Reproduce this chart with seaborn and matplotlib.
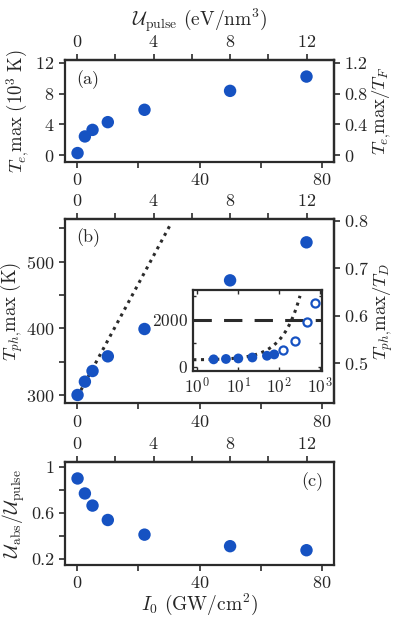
import matplotlib.pyplot as plt
import seaborn as sns
import numpy as np
import pandas as pd

# laser intensity I0 (GW/cm^2) of the runs
I0 = [0.1, 2.5, 5, 10, 22, 50, 75]
Te_max = [0.3, 2.45, 3.3, 4.3, 5.9, 8.35, 10.2]        # 10^3 K
Tph_max = [300, 320, 336, 358, 399, 472, 529]           # K
U_ratio = [0.90, 0.77, 0.665, 0.54, 0.413, 0.313, 0.278]

# inset: higher intensities (open symbols)
I0_high = [120, 240, 480, 750]
Tph_high = [700, 1090, 1900, 2700]
T_melt = 1990

# dotted linear trend (endpoints)
fit_I0 = [0, 30.4]
fit_T = [297, 555]

U_per_I0 = 0.16  # eV/nm^3 per GW/cm^2
blue = "#1652c2"
dark = "#2b2b2b"

sns.set_style("ticks")
plt.rcParams["font.family"] = "serif"
plt.rcParams["font.serif"] = ["cmr10", "DejaVu Serif"]
plt.rcParams["mathtext.fontset"] = "cm"
plt.rcParams["axes.formatter.use_mathtext"] = True
plt.rcParams["axes.edgecolor"] = dark
plt.rcParams["axes.linewidth"] = 1.6

df = pd.DataFrame({"I0": I0, "Te": Te_max, "Tph": Tph_max, "U": U_ratio})
fit = pd.DataFrame({"I0": fit_I0, "T": fit_T})

fig = plt.figure(figsize=(3.95, 6.17), dpi=100)
L, W = 0.1646, 0.681
axa = fig.add_axes([L, 0.7374, W, 0.1653])
axb = fig.add_axes([L, 0.3463, W, 0.2982])
axc = fig.add_axes([L, 0.0843, W, 0.1664])

fs_tick = 13
fs_lab = 13.5


def style(ax):
    ax.set_xlim(-4, 84)
    ax.set_xticks([0, 40, 80])
    ax.set_xticks([20, 60], minor=True)
    ax.tick_params(which="both", direction="out", length=4, width=1.2,
                   labelsize=fs_tick, color=dark)
    top = ax.secondary_xaxis("top", functions=(lambda x: x * U_per_I0,
                                               lambda u: u / U_per_I0))
    top.set_xticks([0, 4, 8, 12])
    top.set_xticks([2, 6, 10], minor=True)
    top.tick_params(which="both", direction="out", length=4, width=1.2,
                    labelsize=fs_tick, color=dark)
    for s in ax.spines.values():
        s.set_visible(True)
    return top


# (a)
sns.scatterplot(data=df, x="I0", y="Te", ax=axa, color=blue, s=80,
                edgecolor="none")
top_a = style(axa)
top_a.set_xlabel(r"$\mathcal{U}_{\rm pulse}$ (eV/nm$^3$)", fontsize=fs_lab + 0.5,
                 labelpad=6)
axa.set_ylim(-0.86, 12.34)
axa.set_yticks([0, 4, 8, 12])
axa.set_xlabel("")
axa.set_ylabel(r"$T_{e,}\!\mathrm{max}\ (10^3\ \mathrm{K})$", fontsize=fs_lab)
axa.yaxis.set_label_coords(-0.125, 0.5)
ra = axa.secondary_yaxis("right", functions=(lambda y: y / 10, lambda r: r * 10))
ra.set_yticks([0, 0.4, 0.8, 1.2])
ra.set_yticklabels(["0", "0.4", "0.8", "1.2"])
ra.tick_params(direction="out", length=4, width=1.2, labelsize=fs_tick, color=dark)
ra.set_ylabel(r"$T_{e,}\!\mathrm{max}/T_F$", fontsize=fs_lab, labelpad=2)
axa.text(0.04, 0.9, "(a)", transform=axa.transAxes, fontsize=fs_tick, va="top")

# (b)
sns.lineplot(data=fit, x="I0", y="T", ax=axb, color=dark, lw=2.2,
             linestyle=(0, (1, 1.5)))
sns.scatterplot(data=df, x="I0", y="Tph", ax=axb, color=blue, s=80,
                edgecolor="none", zorder=3)
style(axb)
axb.set_ylim(287.5, 563.5)
axb.set_yticks([300, 400, 500])
axb.set_yticks([350, 450, 550], minor=True)
axb.set_xlabel("")
axb.set_ylabel(r"$T_{ph,}\!\mathrm{max}\ (\mathrm{K})$", fontsize=fs_lab)
axb.yaxis.set_label_coords(-0.148, 0.5)
rb = axb.secondary_yaxis("right", functions=(lambda k: (k - 347.5) / 712 + 0.5,
                                             lambda r: (r - 0.5) * 712 + 347.5))
rb.set_yticks([0.5, 0.6, 0.7, 0.8])
rb.tick_params(direction="out", length=4, width=1.2, labelsize=fs_tick, color=dark)
rb.set_ylabel(r"$T_{ph,}\!\mathrm{max}/T_D$", fontsize=fs_lab, labelpad=2)
axb.text(0.04, 0.95, "(b)", transform=axb.transAxes, fontsize=fs_tick, va="top")

# inset
axi = fig.add_axes([193 / 395, 1 - 371 / 617, 129 / 395, 81 / 617])
slope = (fit_T[1] - fit_T[0]) / (fit_I0[1] - fit_I0[0])
xs = np.geomspace(0.8, 320, 80)
axi.plot(xs, fit_T[0] + slope * xs, color=dark, lw=2.2, linestyle=(0, (1, 1.5)))
axi.axhline(T_melt, color=dark, lw=2.2, dashes=(6, 4))
sns.scatterplot(x=I0[1:], y=Tph_max[1:], ax=axi, color=blue, s=50,
                edgecolor="none", zorder=3)
axi.scatter(I0_high, Tph_high, s=34, facecolors="white", edgecolors=blue,
            linewidths=1.6, zorder=3)
axi.set_xscale("log")
axi.set_xlim(0.785, 1100)
axi.set_ylim(-174, 3260)
axi.set_xticks([1, 10, 100, 1000])
axi.set_yticks([0, 2000])
axi.set_yticks([1000, 3000], minor=True)
axi.tick_params(which="both", direction="in", top=True, right=True,
                labelsize=fs_tick - 0.5, color=dark, width=1)
axi.tick_params(which="major", length=3)
axi.tick_params(which="minor", length=2)
for s in axi.spines.values():
    s.set_visible(True)

# (c)
sns.scatterplot(data=df, x="I0", y="U", ax=axc, color=blue, s=80,
                edgecolor="none")
style(axc)
axc.set_ylim(0.15, 1.04)
axc.set_yticks([0.2, 0.6, 1.0])
axc.set_yticklabels(["0.2", "0.6", "1"])
axc.set_yticks([0.4, 0.8], minor=True)
axc.set_xlabel(r"$I_0$ (GW/cm$^2$)", fontsize=fs_lab + 0.5, labelpad=0)
axc.set_ylabel(r"$\mathcal{U}_{\rm abs}/\mathcal{U}_{\rm pulse}$",
               fontsize=fs_lab + 0.5)
axc.yaxis.set_label_coords(-0.142, 0.5)
axc.text(0.96, 0.9, "(c)", transform=axc.transAxes, fontsize=fs_tick,
         va="top", ha="right")

fig.savefig("out.png", dpi=100)
